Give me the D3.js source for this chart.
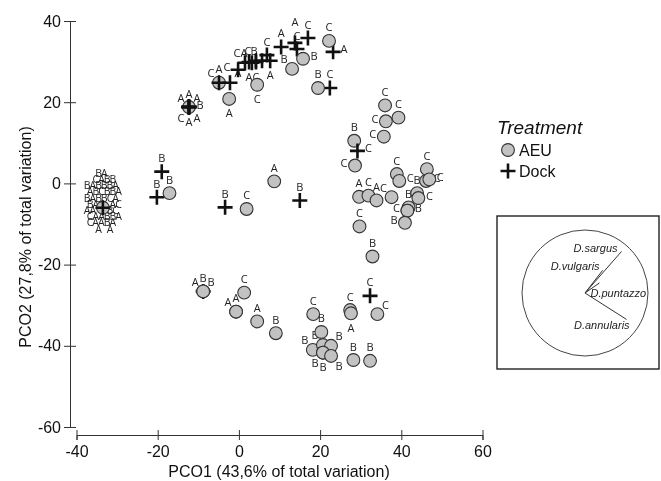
<!DOCTYPE html>
<html>
<head>
<meta charset="utf-8">
<script src="https://cdn.jsdelivr.net/npm/d3@7"></script>
<style>
body { margin: 0; background: #fff; }
svg { opacity: 0.999; will-change: transform; }
svg text { font-family: "Liberation Sans", Arial, sans-serif; }
</style>
</head>
<body>
<script>
// PCO scores, one entry per sample
var pcoX = [-4.9, -4.9, -2.2, -0.2, 1.5, 3.2, 4.2, 5.7, 2.5, 4.2, 6.9, 7.7, 10.4, 13.8, 14.3, 17.0, 23.2, 22.4,
	-2.4, 4.5, 13.1, 15.8, 22.2, 19.5,
	-12.3, -12.3, -12.3, -12.3, -12.3, -12.3, -12.3,
	-19.0, -20.2, -17.1, -3.4, 1.9, 8.7, 15.0,
	36.0, 39.3, 36.2, 35.7, 28.4, 29.2, 28.6, 38.9, 39.5, 46.3, 46.1, 46.9, 29.6, 31.9, 33.9, 37.6,
	43.9, 44.2, 41.8, 41.5, 41.5, 40.9, 29.7, 32.9,
	-8.8, -8.8, -8.8, 1.3, -0.7, -0.7, 4.5, 9.1, 18.3, 20.3, 18.2, 20.7, 22.7, 20.7, 20.7, 22.7,
	27.4, 27.6, 32.3, 34.1, 28.2, 32.3];
var pcoY = [24.8, 24.8, 24.8, 28.0, 29.7, 29.7, 30.2, 30.2, 29.9, 29.9, 31.6, 30.2, 33.6, 34.6, 33.1, 35.8, 32.4, 23.5,
	20.8, 24.3, 28.2, 30.7, 35.1, 23.5,
	18.8, 18.8, 18.8, 18.8, 18.8, 18.8, 18.8,
	2.9, -3.4, -2.4, -5.9, -6.3, 0.5, -4.2,
	19.2, 16.2, 15.3, 11.5, 10.5, 8.0, 4.4, 2.3, 0.6, 3.5, 0.6, 1.0, -3.3, -3.0, -4.2, -3.4,
	-2.4, -3.6, -5.9, -6.7, -6.7, -9.7, -10.6, -18.0,
	-26.6, -26.6, -26.6, -26.9, -31.6, -31.6, -34.0, -36.9, -32.2, -36.6, -41.0, -39.8, -40.0, -41.7, -41.7, -42.5,
	-31.2, -32.0, -27.7, -32.2, -43.5, -43.7];
var treatment = ["AEU", "Dock", "Dock", "Dock", "Dock", "Dock", "Dock", "Dock", "Dock", "Dock", "Dock", "Dock", "Dock", "Dock", "Dock", "Dock", "Dock", "Dock",
	"AEU", "AEU", "AEU", "AEU", "AEU", "AEU",
	"AEU", "Dock", "Dock", "Dock", "Dock", "Dock", "Dock",
	"Dock", "Dock", "AEU", "Dock", "AEU", "AEU", "Dock",
	"AEU", "AEU", "AEU", "AEU", "AEU", "Dock", "AEU", "AEU", "AEU", "AEU", "AEU", "AEU", "AEU", "AEU", "AEU", "AEU",
	"AEU", "AEU", "AEU", "AEU", "AEU", "AEU", "AEU", "AEU",
	"Dock", "AEU", "AEU", "AEU", "AEU", "AEU", "AEU", "AEU", "AEU", "AEU", "AEU", "AEU", "AEU", "AEU", "AEU", "AEU",
	"AEU", "AEU", "Dock", "AEU", "AEU", "AEU"];
var group = ["C", "A", "A", "C", "C", "A", "C", "B", "A", "C", "C", "A", "A", "A", "C", "C", "A", "C",
	"A", "C", "B", "B", "C", "B",
	"A", "A", "A", "B", "A", "C", "A",
	"B", "B", "B", "B", "C", "A", "B",
	"C", "C", "C", "C", "B", "C", "C", "C", "C", "C", "C", "C", "A", "C", "A", "C",
	"B", "C", "B", "C", "B", "B", "C", "B",
	"A", "B", "B", "C", "A", "A", "A", "B", "C", "B", "B", "B", "B", "B", "B", "B",
	"C", "A", "C", "C", "B", "B"];
// where each letter sits around its symbol
var labelSide = ["NW", "N", "NE", "W", "NW", "NW", "NW", "NW", "S", "S", "N", "S", "N", "NN", "N", "N", "E", "N",
	"S", "S", "NW", "E", "N", "N",
	"NW", "N", "NE", "E", "SE", "SW", "S",
	"N", "N", "N", "N", "N", "N", "N",
	"N", "N", "W", "W", "N", "E", "W", "N", "E", "N", "E", "E", "N", "N", "N", "NW",
	"N", "E", "N", "W", "E", "W", "N", "N",
	"NW", "N", "NE", "N", "N", "NW", "N", "N", "N", "N", "NW", "NW", "NE", "SW", "S", "SE",
	"N", "S", "N", "NE", "N", "N"];

// the crowded cluster on the far left: all samples on one spot, letters packed around it
var blobPoint = [-33.5, -6.0];
var blobTreatment = ["AEU", "Dock"];
var blobRows = ["BA", "CABB", "BABBBA", "ABCBBA", "BABBCA", "BA  AC", "AA  BC", "CAABBA", "CAABA", "A A"];

// species vectors in the inset
var species = ["D.sargus", "D.vulgaris", "D.puntazzo", "D.annularis"];
var vecX = [0.58, 0.28, 0.23, 0.66];
var vecY = [0.66, 0.36, 0.16, -0.42];

var xTicks = [-40, -20, 0, 20, 40, 60];
var yTicks = [-60, -40, -20, 0, 20, 40];

var width = 661, height = 481;
var svg = d3.select("body").append("svg")
	.attr("width", width)
	.attr("height", height);

var x = d3.scaleLinear().domain([-40, 60]).range([76.5, 482.5]);
var y = d3.scaleLinear().domain([-60, 40]).range([427, 21]);

function plain(d) { return String(d); }

// axes, ticks cross the line
var yAxis = svg.append("g")
	.attr("transform", "translate(70,0)")
	.attr("color", "#333")
	.call(d3.axisLeft(y).tickValues(yTicks).tickFormat(plain).tickSizeOuter(0).tickSize(6));
yAxis.selectAll(".tick line").attr("x1", 6).attr("x2", -6);
yAxis.selectAll(".tick text").attr("x", -9)
	.attr("font-size", 16).attr("font-family", "Liberation Sans, Arial, sans-serif").attr("fill", "#111");

var xAxis = svg.append("g")
	.attr("transform", "translate(0,435)")
	.attr("color", "#333")
	.call(d3.axisBottom(x).tickValues(xTicks).tickFormat(plain).tickSizeOuter(0).tickSize(5));
xAxis.selectAll(".tick line").attr("y1", -5).attr("y2", 5);
xAxis.selectAll(".tick text").attr("y", 11)
	.attr("font-size", 16).attr("font-family", "Liberation Sans, Arial, sans-serif").attr("fill", "#111");

svg.append("text")
	.attr("x", 279).attr("y", 477)
	.attr("text-anchor", "middle")
	.attr("font-size", 16).attr("fill", "#111")
	.text("PCO1 (43,6% of total variation)");

svg.append("text")
	.attr("transform", "translate(31,237) rotate(-90)")
	.attr("text-anchor", "middle")
	.attr("font-size", 16).attr("fill", "#111")
	.text("PCO2 (27,8% of total variation)");

// label offsets by side
var side = {
	N: [0, -14], NN: [0, -21], S: [0, 14], E: [11, -3], W: [-11, -3],
	NE: [8, -10], NW: [-8, -10], SE: [8, 10], SW: [-8, 10]
};

var samples = pcoX.map(function(d, i) {
	return {x: d, y: pcoY[i], t: treatment[i], g: group[i], s: labelSide[i]};
});

var labelFont = "Open Sans, DejaVu Sans, sans-serif";

svg.append("g").selectAll("text")
	.data(samples)
	.enter().append("text")
	.attr("x", function(d) { return x(d.x) + side[d.s][0]; })
	.attr("y", function(d) { return y(d.y) + side[d.s][1]; })
	.attr("text-anchor", "middle")
	.attr("dominant-baseline", "central")
	.style("font-family", labelFont)
	.attr("font-size", 11)
	.attr("fill", "#222")
	.text(function(d) { return d.g; });

// blob letters
var bx = x(blobPoint[0]), by = y(blobPoint[1]) - 7;
var blobG = svg.append("g");
blobRows.forEach(function(row, i) {
	var yy = by + (i - (blobRows.length - 1) / 2) * 6.2;
	row.split("").forEach(function(ch, j) {
		if (ch == " ") return;
		blobG.append("text")
			.attr("x", bx + (j - (row.length - 1) / 2) * 5.7 + (i % 2 ? 1.5 : -1.5))
			.attr("y", yy)
			.attr("text-anchor", "middle")
			.attr("dominant-baseline", "central")
			.style("font-family", labelFont)
			.attr("font-size", 10.5)
			.attr("fill", "#222")
			.text(ch);
	});
});

function drawMark(g, t, px, py) {
	if (t == "AEU") {
		g.append("circle")
			.attr("cx", px).attr("cy", py).attr("r", 6.4)
			.attr("fill", "#c2c2c2")
			.attr("stroke", "#333")
			.attr("stroke-width", 1.1);
	} else {
		g.append("path")
			.attr("d", "M" + (px - 7.5) + "," + py + "H" + (px + 7.5) + "M" + px + "," + (py - 7.5) + "V" + (py + 7.5))
			.attr("stroke", "#111")
			.attr("stroke-width", 2.6)
			.attr("fill", "none");
	}
}

var marks = svg.append("g");
blobTreatment.forEach(function(t) { drawMark(marks, t, x(blobPoint[0]), y(blobPoint[1])); });
samples.forEach(function(d) { drawMark(marks, d.t, x(d.x), y(d.y)); });

// legend
svg.append("text")
	.attr("x", 497).attr("y", 134)
	.attr("font-size", 19).attr("font-style", "italic").attr("fill", "#111")
	.text("Treatment");
var legendItems = ["AEU", "Dock"];
legendItems.forEach(function(t, i) {
	var ly = 150 + i * 21;
	drawMark(svg, t, 508, ly);
	svg.append("text")
		.attr("x", 519).attr("y", ly + 6)
		.attr("font-size", 16).attr("fill", "#111")
		.text(t);
});

// vector inset
svg.append("rect")
	.attr("x", 497).attr("y", 216)
	.attr("width", 162).attr("height", 153)
	.attr("fill", "none")
	.attr("stroke", "#222")
	.attr("stroke-width", 1.4);

var cx = 585, cy = 293, r = 63;
var vx = d3.scaleLinear().domain([-1, 1]).range([cx - r, cx + r]);
var vy = d3.scaleLinear().domain([-1, 1]).range([cy + r, cy - r]);

svg.append("circle")
	.attr("cx", cx).attr("cy", cy).attr("r", r)
	.attr("fill", "none")
	.attr("stroke", "#444")
	.attr("stroke-width", 1);

var vecAnchor = ["end", "end", "start", "end"];
var vecDx = [-4, -3, -9, 3];
var vecDy = [1, 0, 14, 10];

species.forEach(function(s, i) {
	svg.append("line")
		.attr("x1", vx(0)).attr("y1", vy(0))
		.attr("x2", vx(vecX[i])).attr("y2", vy(vecY[i]))
		.attr("stroke", "#333")
		.attr("stroke-width", 1);
	svg.append("text")
		.attr("x", vx(vecX[i]) + vecDx[i])
		.attr("y", vy(vecY[i]) + vecDy[i])
		.attr("text-anchor", vecAnchor[i])
		.attr("font-size", 11)
		.attr("font-style", "italic")
		.attr("fill", "#222")
		.text(s);
});
</script>
</body>
</html>
